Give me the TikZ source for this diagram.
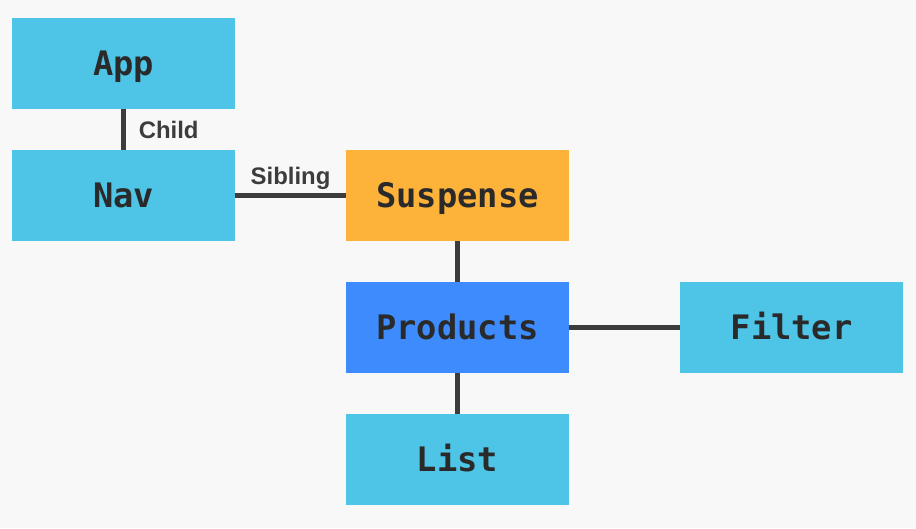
\documentclass[tikz,border=0pt]{standalone}
\usepackage{fontspec}
\setmainfont{Liberation Sans}
\setmonofont{DejaVu Sans Mono}
\usepackage{tikz}
\usetikzlibrary{positioning}

\definecolor{bgcol}{HTML}{F8F8F8}
\definecolor{boxcyan}{HTML}{4EC4E6}
\definecolor{susporange}{HTML}{FDB23A}
\definecolor{prodblue}{HTML}{3D8BFD}
\definecolor{txtdark}{HTML}{2A2A2A}
\definecolor{linegray}{HTML}{3C3C3C}

\begin{document}
\begin{tikzpicture}[x=0.025cm,y=-0.025cm,
    comp/.style={rectangle,fill=boxcyan,minimum width=5.575cm,minimum height=2.275cm,
      inner sep=0pt,outer sep=0pt,text height=17.5pt,text depth=0pt,text=txtdark,
      font=\ttfamily\bfseries\fontsize{24}{28}\selectfont},
    link/.style={draw=linegray,line width=3.8pt},
    tag/.style={text=linegray,inner sep=1pt,font=\bfseries\fontsize{17}{20}\selectfont},
    node distance=1.025cm and 2.775cm
    ]

\useasboundingbox[fill=bgcol] (0,0) rectangle (916,528);

% component tree
\node[comp] (App) at (123.5,63.5) {App};
\node[comp,below=of App] (Nav) {Nav};
\node[comp,fill=susporange,right=of Nav] (Suspense) {Suspense};
\node[comp,fill=prodblue,below=of Suspense] (Products) {Products};
\node[comp,right=of Products] (Filter) {Filter};
\node[comp,below=of Products] (List) {List};

% links
\draw[link] (App) -- node[tag,anchor=west,xshift=8pt] {Child} (Nav);
\draw[link] (Nav) -- node[tag,anchor=south,yshift=1pt] {Sibling} (Suspense);
\draw[link] (Suspense) -- (Products);
\draw[link] (Products) -- (Filter);
\draw[link] (Products) -- (List);

\end{tikzpicture}
\end{document}
